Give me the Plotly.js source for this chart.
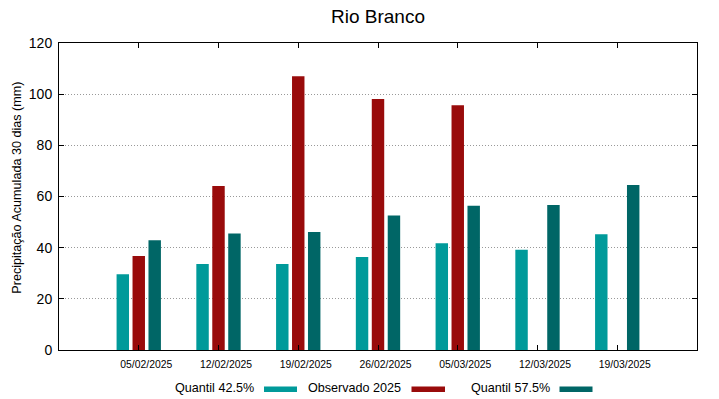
<!DOCTYPE html>
<html>
<head>
<meta charset="utf-8">
<script src="https://cdn.plot.ly/plotly-3.0.1.min.js"></script>
<style>html,body{margin:0;padding:0;background:#fff;}#chart{width:719px;height:399px;}</style>
</head>
<body>
<div id="chart"></div>
<script>
const dates = ["05/02/2025","12/02/2025","19/02/2025","26/02/2025","05/03/2025","12/03/2025","19/03/2025"];
const quantil425 = [29.6, 33.6, 33.6, 36.4, 41.7, 39.2, 45.2];
const observado2025 = [36.7, 64.1, 107.0, 98.1, 95.7, null, null];
const quantil575 = [42.9, 45.5, 46.1, 52.6, 56.4, 56.7, 64.5];
const seriesNames = ["Quantil 42.5%", "Observado 2025", "Quantil 57.5%"];
const colors = ["#009a9a", "#990b0b", "#006666"];
const yTitle = 'Precipitação Acumulada 30 dias (mm)';

const W = 719, H = 399, L = 59, R = 22, T = 43, B = 49;
const pw = W - L - R, ph = H - T - B;
const px = x => (x - L) / pw;
const py = y => (H - B - y) / ph;
const fam = 'Liberation Sans, Arial, sans-serif';
const idx = dates.map((d, i) => i);
const labelOffset = 0.094; // labels sit slightly right of group centre

const traces = [quantil425, observado2025, quantil575].map((vals, i) => ({
  type: 'bar', x: idx, y: vals, name: seriesNames[i],
  marker: {color: colors[i], line: {width: 0}}, showlegend: false
}));
// empty helper trace so the label axis (x2) is drawn
traces.push({type: 'scatter', mode: 'markers', x: idx, y: idx.map(() => null),
             xaxis: 'x2', yaxis: 'y', showlegend: false, hoverinfo: 'skip'});

const legendItems = [
  {textRight: 256, sym: [264, 297]},
  {textRight: 403, sym: [411.5, 445]},
  {textRight: 551.5, sym: [559.5, 592.5]}
];
const annotations = legendItems.map((it, i) => ({
  xref: 'paper', yref: 'paper', x: px(it.textRight), y: py(387.7),
  xanchor: 'right', yanchor: 'middle', showarrow: false,
  text: seriesNames[i], font: {family: fam, size: 12.6, color: '#000'}
}));
annotations.push({
  xref: 'paper', yref: 'paper', x: px(16.7), y: py(188),
  xanchor: 'center', yanchor: 'middle', showarrow: false, textangle: -90,
  text: yTitle, font: {family: fam, size: 12.6, color: '#000'}
});
const shapes = legendItems.map((it, i) => ({
  type: 'rect', xref: 'paper', yref: 'paper',
  x0: px(it.sym[0]), x1: px(it.sym[1]), y0: py(386.5), y1: py(392),
  fillcolor: colors[i], line: {width: 0}
}));

const layout = {
  width: W, height: H,
  margin: {l: L, r: R, t: T, b: B, pad: 0},
  paper_bgcolor: '#fff', plot_bgcolor: '#fff',
  font: {family: fam, color: '#000'},
  title: {text: 'Rio Branco', x: 0.5, xref: 'paper', y: 1 - 16/H, yanchor: 'middle',
          font: {size: 19, color: '#000'}},
  barmode: 'group', bargap: 0.4, bargroupgap: 0.22,
  xaxis: {type: 'linear', range: [-1, 7], showgrid: false,
          tickmode: 'array', tickvals: idx, ticktext: dates,
          ticks: 'inside', ticklen: 5, tickcolor: '#000', mirror: 'ticks',
          showline: true, linecolor: '#000', linewidth: 1,
          showticklabels: false, zeroline: false},
  xaxis2: {type: 'linear', range: [-1, 7], overlaying: 'x', anchor: 'y', side: 'bottom',
           tickmode: 'array', tickvals: idx.map(i => i + labelOffset), ticktext: dates,
           ticks: '', showgrid: false, showline: false, zeroline: false,
           tickfont: {size: 10.4}, ticklabelstandoff: 7},
  yaxis: {range: [0, 120], dtick: 20, showgrid: true, gridcolor: '#999', griddash: '1px,2px', gridwidth: 1,
          ticks: 'inside', ticklen: 5, tickcolor: '#000', mirror: 'ticks',
          showline: true, linecolor: '#000', linewidth: 1, zeroline: false,
          tickfont: {size: 14}, ticklabelstandoff: 3},
  annotations: annotations,
  shapes: shapes
};

Plotly.newPlot('chart', traces, layout, {displayModeBar: false, staticPlot: true});
</script>
</body>
</html>
